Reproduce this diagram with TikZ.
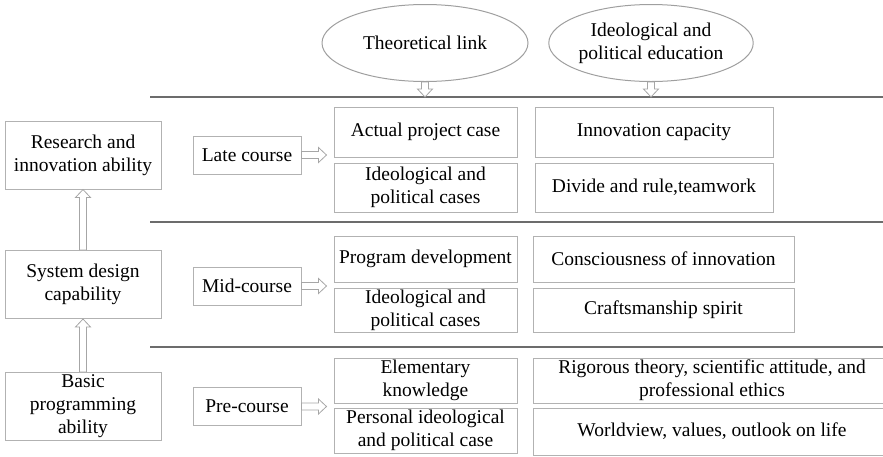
\documentclass[tikz,border=0pt]{standalone}
\usepackage{fontspec}
\setmainfont{LiberationSerif}[Extension=.ttf,UprightFont=*-Regular]
\usetikzlibrary{calc}
\usetikzlibrary{shapes.geometric}

\begin{document}
\begin{tikzpicture}[x=1pt,y=-1pt,
  font=\fontsize{19.5}{23}\selectfont,
  box/.style={draw=gray!60,line width=1pt,align=center,inner sep=0pt},
  abil/.style={box,minimum width=156,minimum height=68},
  stage/.style={box,minimum width=108,minimum height=38},
  link/.style={box,minimum width=183},
  oval/.style={ellipse,draw=gray!75,line width=1pt,align=center,inner sep=0pt,minimum height=77},
  rule/.style={draw=gray!85!black,line width=1.5pt},
  hollow/.style={draw=gray!70,fill=white,line width=0.8pt,
    to path={let \p1=(\tikztostart),\p2=(\tikztotarget),
      \n1={atan2(\y2-\y1,\x2-\x1)},\n2={veclen(\x2-\x1,\y2-\y1)} in
      [shift={(\p1)},rotate=\n1] (0pt,-3.5pt) -- ({\n2-8pt},-3.5pt) -- ({\n2-8pt},-7.5pt)
      -- ({\n2*1pt},0pt) -- ({\n2-8pt},7.5pt) -- ({\n2-8pt},3.5pt) -- (0pt,3.5pt) -- cycle}}]
 \useasboundingbox (0,0) rectangle (883,456);
 \clip (0,0) rectangle (883,456);
 \foreach \y in {97,222,347} \draw[rule] (150,\y) -- (883,\y);
 % headings
 \node[oval,minimum width=206] (theo) at (425,43) {Theoretical link};
 \node[oval,minimum width=196] (ideo) at (651,43) {Ideological and\\political education};
 % abilities
 \node[abil] (research) at (83,155) {Research and\\innovation ability};
 \node[abil] (system) at (83,284.5) {System design\\capability};
 \node[abil] (basic) at (83,406.5) {Basic\\programming\\ability};
 % stages
 \node[stage] (late) at (247,155) {Late course};
 \node[stage] (mid) at (247,286) {Mid-course};
 \node[stage] (pre) at (247,406.5) {Pre-course};
 % theoretical link
 \node[link,minimum height=50] (lt1) at (425.5,132) {Actual project case};
 \node[link,minimum height=49] (lt2) at (425.5,187.5) {Ideological and\\political cases};
 \node[link,minimum height=46] (mt1) at (425.5,259) {Program development};
 \node[link,minimum height=44] (mt2) at (425.5,310) {Ideological and\\political cases};
 \node[link,minimum height=45] (pt1) at (425.5,380.5) {Elementary\\knowledge};
 \node[link,minimum height=45] (pt2) at (425.5,430.5) {Personal ideological\\and political case};
 % ideological and political education
 \node[box,minimum width=238,minimum height=50] (le1) at (654,132) {Innovation capacity};
 \node[box,minimum width=238,minimum height=49] (le2) at (654,187.5) {Divide and rule,teamwork};
 \node[box,minimum width=261,minimum height=46] (me1) at (663.5,259) {Consciousness of innovation};
 \node[box,minimum width=261,minimum height=44] (me2) at (663.5,310) {Craftsmanship spirit};
 \node[box,minimum width=358,minimum height=45] (pe1) at (712,380.5) {Rigorous theory, scientific attitude, and\\professional ethics};
 \node[box,minimum width=358,minimum height=47] (pe2) at (712,431.5) {Worldview, values, outlook on life};
 % arrows
 \coordinate (theoend) at ($(theo.south)+(0,15)$);
 \coordinate (ideoend) at ($(ideo.south)+(0,15)$);
 \draw[hollow] (theo.south) to (theoend);
 \draw[hollow] (ideo.south) to (ideoend);
 \draw[hollow] (basic.north) to (system.south);
 \draw[hollow] (system.north) to (research.south);
 \coordinate (lateend) at ($(late.east -| lt1.west)+(-7,0)$);
 \coordinate (midend) at ($(mid.east -| mt1.west)+(-7,0)$);
 \coordinate (preend) at ($(pre.east -| pt1.west)+(-7,0)$);
 \draw[hollow] (late.east) to (lateend);
 \draw[hollow] (mid.east) to (midend);
 \draw[hollow] (pre.east) to (preend);
\end{tikzpicture}
\end{document}
